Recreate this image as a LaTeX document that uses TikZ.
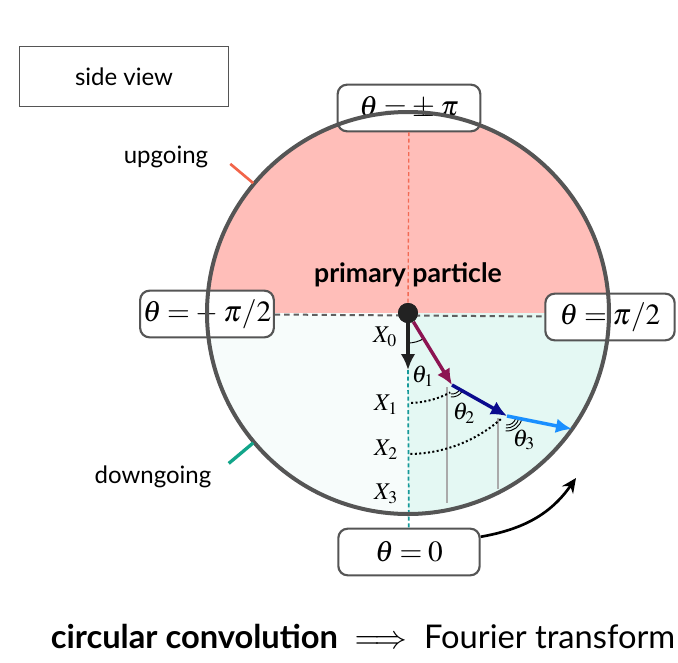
\documentclass[tikz,border=0pt]{standalone}
\usepackage{mathptmx}
\usepackage[no-math]{fontspec}
\setmainfont{Lato}
\usetikzlibrary{arrows.meta}

\definecolor{rosehaut}{HTML}{FFBEB9}
\definecolor{vertdroit}{HTML}{E4F8F3}
\definecolor{vertgauche}{HTML}{F7FCFB}
\definecolor{bordgris}{HTML}{555555}
\definecolor{axegris}{HTML}{606060}
\definecolor{rougepointe}{HTML}{F26B55}
\definecolor{sarcelle}{HTML}{17999A}
\definecolor{rougetick}{HTML}{F2654A}
\definecolor{verttick}{HTML}{12A58A}
\definecolor{pourpre}{HTML}{8C1452}
\definecolor{marine}{HTML}{0B0B8E}
\definecolor{bleuclair}{HTML}{1A8FFF}
\definecolor{grisclair}{HTML}{AAAAAA}
\definecolor{noir}{HTML}{222222}

\newcommand{\serre}{\thickmuskip=3.5mu\relax\medmuskip=2mu\relax}

\begin{document}
\begin{tikzpicture}[x=0.75pt, y=0.75pt,
    cadre/.style={draw=bordgris, line width=1.6pt, rounded corners=7pt, fill=white,
        minimum height=35pt, minimum width=97pt, inner xsep=2pt,
        font=\fontsize{22}{26}\selectfont\serre},
    texte/.style={font=\fontsize{18}{21}\selectfont},
    etiq/.style={font=\fontsize{18}{20}\selectfont},
    fleche/.style={line width=2.6pt, -{Latex[length=12pt,width=11pt]}}]

    \useasboundingbox (-408,-349) rectangle (270,313);

    % Remplissage du disque
    \fill[rosehaut] (201,0) arc (0:180:201) -- cycle;
    \fill[vertgauche] (-201,0) arc (180:270:201) -- (0,0) -- cycle;
    \fill[vertdroit] (0,-201) arc (270:360:201) -- (0,0) -- cycle;

    % Noeuds
    \node[circle, fill=noir, minimum size=15pt, inner sep=0pt] (part) at (0,0) {};
    \node[font=\bfseries\fontsize{20}{24}\selectfont] (prim) at (0,38) {primary particle};
    \node[cadre, minimum width=107pt] (zpi) at (1,205) {$\theta = \pm\mskip3mu\relax\pi$};
    \node[cadre] (zmoins) at (-201,-1) {$\theta = -\mskip3mu\relax\pi/2$};
    \node[cadre] (zplus) at (202,-4) {$\theta = \pi/2$};
    \node[cadre, minimum width=106pt] (zero) at (1,-239) {$\theta = 0$};
    \node[texte, draw=bordgris, line width=0.8pt, minimum width=157pt, minimum height=45pt] (vue) at (-284,236.5) {side view};
    \node[texte] (haut) at (-242,156) {upgoing};
    \node[texte] (bas) at (-255,-164) {downgoing};
    \node[font=\fontsize{24.5}{28}\selectfont] (conv) at (-45,-323) {\textbf{circular convolution}\ \ $\Longrightarrow$\ \ Fourier transform};

    \coordinate (pointe) at (0,-57);
    \coordinate (P1) at (44,-72);
    \coordinate (P2) at (99,-103);
    \coordinate (P3) at (164,-116);
    \coordinate (fin) at (168,-165);

    % Axes en pointilles
    \draw[axegris, line width=1.5pt, dash pattern=on 4pt off 3pt] (zmoins) -- (zplus);
    \draw[rougepointe, line width=1pt, dash pattern=on 3pt off 2pt] (part) -- (zpi);
    \draw[sarcelle, line width=1.3pt, dash pattern=on 3pt off 2pt] (pointe) -- (zero);

    % Verticales grises
    \draw[grisclair, line width=1.2pt] (39,-74) -- (39,-190);
    \draw[grisclair, line width=1.2pt] (90,-105) -- (90,-176);

    % Bord du detecteur
    \draw[bordgris, line width=3pt] (0,0) circle (201);
    \draw[rougetick, line width=2pt] (140:202) -- (140:232);
    \draw[verttick, line width=2.5pt] (220:202) -- (220:234);

    % Arcs pointilles
    \draw[line width=1.5pt, dash pattern=on 1.5pt off 1.8pt] (-88:90) arc (-88:-62:90);
    \draw[line width=1.5pt, dash pattern=on 1.5pt off 1.8pt] (-89:141) arc (-89:-48:141);

    % Angles
    \draw[line width=0.7pt] (-90:30) arc (-90:-58:30);
    \draw[line width=0.7pt] ([shift={(P1)}]-95:9) arc (-95:-30:9);
    \draw[line width=0.7pt] ([shift={(P1)}]-95:12) arc (-95:-30:12);
    \foreach \r in {9,12,15}
        \draw[line width=0.7pt] ([shift={(P2)}]-95:\r) arc (-95:-11:\r);

    % Trajectoire
    \draw[fleche, noir] (part.center) -- (pointe);
    \draw[fleche, pourpre] (part) -- (P1);
    \draw[fleche, marine] (P1) -- (P2);
    \draw[fleche, bleuclair] (P2) -- (P3);
    \node[circle, fill=noir, minimum size=15pt, inner sep=0pt] at (part) {};

    % Etiquettes
    \node[etiq] (x0) at (-23,-24) {$X_0$};
    \node[etiq] (x1) at (-22,-92) {$X_1$};
    \node[etiq] (x2) at (-22,-137) {$X_2$};
    \node[etiq] (x3) at (-22,-181) {$X_3$};
    \node[etiq] (t1) at (15,-63) {$\theta_1$};
    \node[etiq] (t2) at (56,-100) {$\theta_2$};
    \node[etiq] (t3) at (116,-127) {$\theta_3$};

    % Fleche courbe
    \draw[line width=2pt, -{Stealth[length=11pt,width=10pt]}] (zero.12) to[out=10, in=235] (fin);

\end{tikzpicture}
\end{document}
